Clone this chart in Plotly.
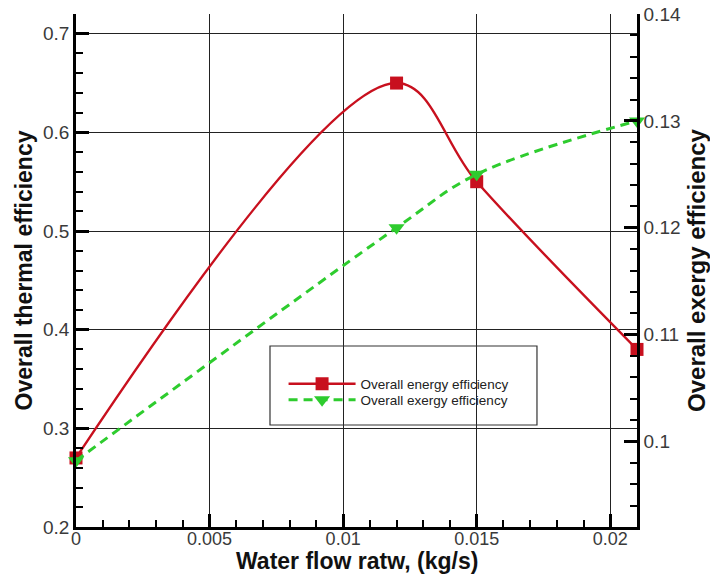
import plotly.graph_objects as go

flow = [0.0, 0.012, 0.015, 0.021]
energy_eff = [0.27, 0.65, 0.55, 0.38]
exergy_eff = [0.0982, 0.12, 0.125, 0.13]

x_ticks = [0, 0.005, 0.01, 0.015, 0.02]
x_tick_labels = ["0", "0.005", "0.01", "0.015", "0.02"]
y_ticks = [0.2, 0.3, 0.4, 0.5, 0.6, 0.7]
y2_ticks = [0.1, 0.11, 0.12, 0.13, 0.14]

RED = "#c8101e"
GREEN = "#2ecc2e"
FONT = "Liberation Sans, Arial, sans-serif"

fig = go.Figure()
fig.add_trace(go.Scatter(
    x=flow, y=energy_eff, name="Overall energy efficiency",
    mode="lines+markers",
    line=dict(color=RED, width=2.4, shape="spline", smoothing=1.0),
    marker=dict(symbol="square", size=13, color=RED),
    cliponaxis=False, yaxis="y", legend="legend"))
fig.add_trace(go.Scatter(
    x=flow, y=exergy_eff, name="Overall exergy efficiency",
    mode="lines+markers",
    line=dict(color=GREEN, width=3, dash="9px,6px", shape="spline", smoothing=1.0),
    marker=dict(symbol="triangle-down", size=14, color=GREEN),
    cliponaxis=False, yaxis="y2", legend="legend2"))

axis_common = dict(
    showline=True, linecolor="black", linewidth=2.5,
    ticks="inside", ticklen=13, tickwidth=2.5, tickcolor="black",
    tickfont=dict(family=FONT, size=19, color="#3a3a3a"),
    zeroline=False, mirror=False, automargin=False,
)
title_font = dict(family=FONT, size=24, color="#111111")

legend_common = dict(
    xanchor="left", yanchor="top",
    bgcolor="rgba(0,0,0,0)", borderwidth=0,
    font=dict(family=FONT, size=13.5, color="#222222"),
    itemwidth=67, tracegroupgap=0)

fig.update_layout(
    width=710, height=578,
    margin=dict(l=76, r=73, t=14, b=51),
    paper_bgcolor="white", plot_bgcolor="white",
    showlegend=True,
    xaxis=dict(
        range=[0, 0.021], tickvals=x_ticks, ticktext=x_tick_labels,
        showgrid=True, gridcolor="#222222", gridwidth=1,
        minor=dict(dtick=0.001, ticks="inside", ticklen=7, tickwidth=1.5,
                   tickcolor="black", showgrid=False),
        ticklabelstandoff=-6,
        **{**axis_common, "tickfont": dict(family=FONT, size=18, color="#3a3a3a")}),
    yaxis=dict(
        range=[0.2, 0.72], tickvals=y_ticks,
        showgrid=True, gridcolor="#222222", gridwidth=1,
        minor=dict(dtick=0.02, ticks="inside", ticklen=7, tickwidth=1.5,
                   tickcolor="black", showgrid=False),
        title=dict(text="<b>Overall thermal efficiency</b>",
                   font=dict(family=FONT, size=23, color="#111111"), standoff=4),
        **axis_common),
    yaxis2=dict(
        range=[0.092, 0.14], tickvals=y2_ticks,
        overlaying="y", side="right", showgrid=False,
        minor=dict(dtick=0.002, ticks="inside", ticklen=7, tickwidth=1.5,
                   tickcolor="black", showgrid=False),
        title=dict(text="<b>Overall exergy efficiency</b>", font=title_font, standoff=10),
        **axis_common),
    legend=dict(x=0.37, y=0.309, **legend_common),
    legend2=dict(x=0.37, y=0.278, **legend_common),
    annotations=[dict(text="<b>Water flow ratw, (kg/s)</b>", xref="paper", yref="paper",
                      x=0.5, y=-0.0663, xanchor="center", yanchor="middle",
                      showarrow=False,
                      font=dict(family=FONT, size=23, color="#111111"))],
    shapes=[dict(type="rect", xref="paper", yref="paper",
                 x0=0.3458, x1=0.8217, y0=0.1988, y1=0.3528,
                 line=dict(color="#333333", width=1.2), fillcolor="rgba(0,0,0,0)")],
)

fig.write_html("out.html")
